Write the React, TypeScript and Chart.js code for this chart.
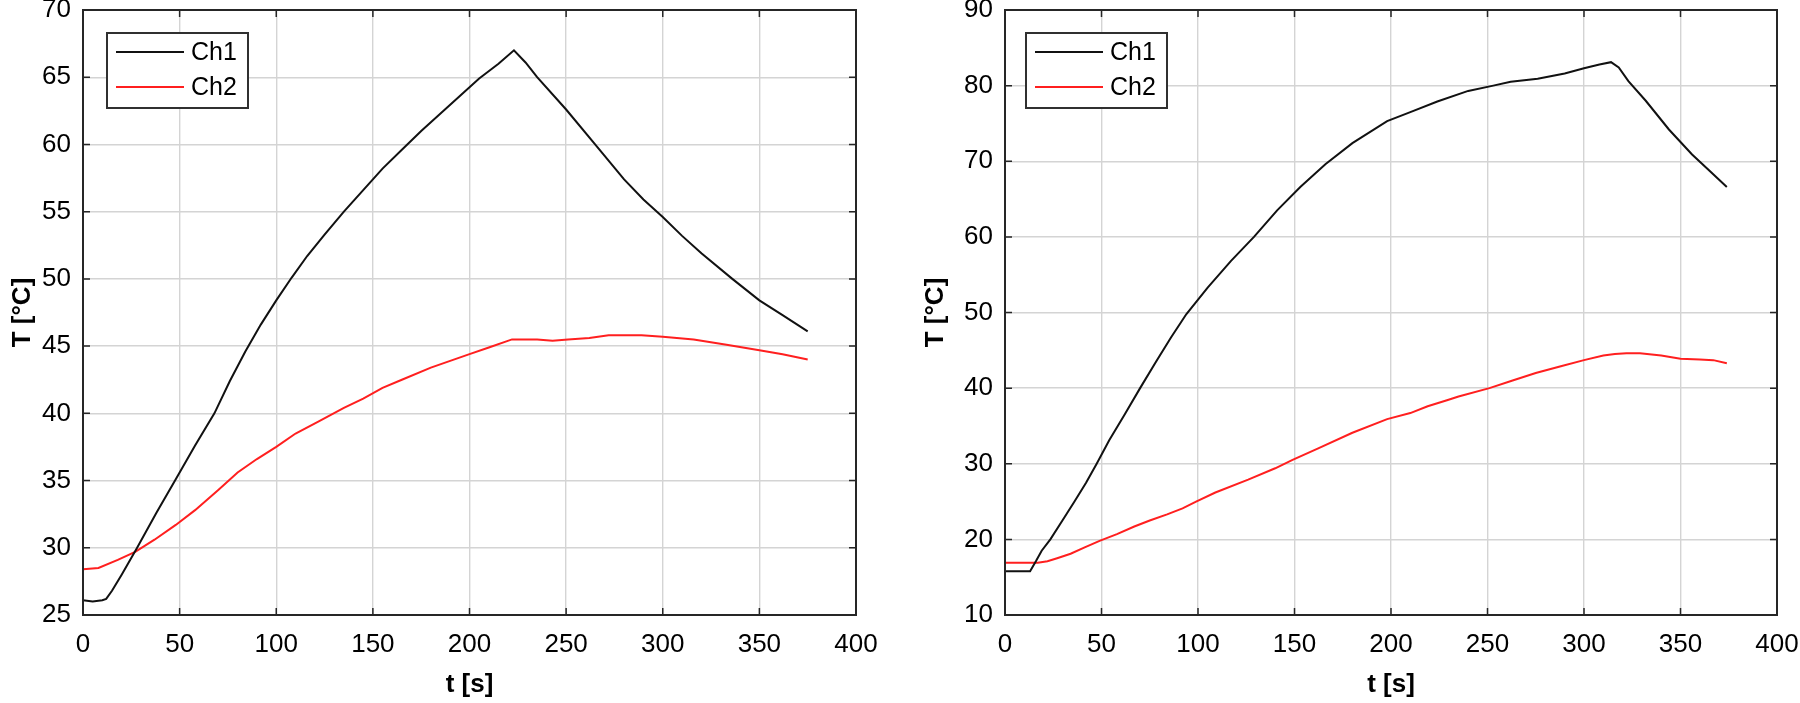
import React, { useEffect, useRef } from "react";
import { Chart, registerables } from "chart.js";

Chart.register(...registerables);

// ---------- data (time in s, temperature in °C) ----------
const seriesLabels = ["Ch1", "Ch2"];
const xTickValues = [0, 50, 100, 150, 200, 250, 300, 350, 400];
const leftYTicks = [25, 30, 35, 40, 45, 50, 55, 60, 65, 70];
const rightYTicks = [10, 20, 30, 40, 50, 60, 70, 80, 90];

const leftCh1T = [0, 5, 10, 12, 15, 20, 28, 38, 48, 58, 68, 76, 84, 92, 100, 108, 116, 125, 135, 145, 155, 165, 175, 185, 195, 205, 215, 223, 229, 235, 250, 265, 280, 290, 300, 310, 320, 336, 350, 362, 375];
const leftCh1 = [26.1, 26.0, 26.1, 26.2, 26.8, 28.0, 30.0, 32.6, 35.1, 37.6, 40.0, 42.4, 44.6, 46.6, 48.4, 50.1, 51.7, 53.3, 55.0, 56.6, 58.2, 59.6, 61.0, 62.3, 63.6, 64.9, 66.0, 67.0, 66.1, 65.0, 62.6, 60.0, 57.4, 55.9, 54.6, 53.2, 51.9, 50.0, 48.4, 47.3, 46.1];

const leftCh2T = [0, 8, 18, 27, 37, 48, 58, 70, 80, 90, 100, 110, 122, 135, 145, 155, 165, 180, 190, 200, 210, 222, 235, 243, 251, 262, 272, 289, 300, 316, 333, 350, 362, 375];
const leftCh2 = [28.4, 28.5, 29.1, 29.7, 30.6, 31.7, 32.8, 34.3, 35.6, 36.6, 37.5, 38.5, 39.4, 40.4, 41.1, 41.9, 42.5, 43.4, 43.9, 44.4, 44.9, 45.5, 45.5, 45.4, 45.5, 45.6, 45.8, 45.8, 45.7, 45.5, 45.1, 44.7, 44.4, 44.0];

const rightCh1T = [0, 8, 13, 16, 19, 23.5, 30, 36, 42, 47.5, 54, 62, 70, 78, 86, 94, 105, 117, 129, 141, 153, 166, 180, 198, 210, 224, 240, 253, 262, 276, 290, 300, 308, 314, 318, 323, 332, 344, 356, 366, 374];
const rightCh1 = [15.8, 15.8, 15.8, 17.1, 18.5, 20.0, 22.6, 25.0, 27.5, 30.0, 33.1, 36.5, 40.0, 43.4, 46.7, 49.8, 53.3, 56.8, 60.0, 63.5, 66.6, 69.6, 72.4, 75.3, 76.5, 77.9, 79.3, 80.0, 80.5, 80.9, 81.6, 82.3, 82.8, 83.1, 82.4, 80.6, 78.0, 74.2, 70.9, 68.5, 66.6];

const rightCh2T = [0, 10, 17, 22, 27, 34, 41, 49, 58, 67, 75, 84, 92, 99, 109, 126, 140, 149, 162, 180, 198, 210, 219, 229, 235, 251, 263, 275, 288, 300, 310, 316, 322, 329, 340, 350, 360, 367, 374];
const rightCh2 = [16.9, 16.9, 16.9, 17.1, 17.5, 18.1, 18.9, 19.8, 20.7, 21.7, 22.5, 23.3, 24.1, 25.0, 26.2, 27.9, 29.4, 30.5, 32.0, 34.1, 35.9, 36.7, 37.6, 38.4, 38.9, 40.0, 41.0, 42.0, 42.9, 43.7, 44.3, 44.5, 44.6, 44.6, 44.3, 43.9, 43.8, 43.7, 43.3];

// ---------- styling ----------
const FONT = "'Liberation Sans', Arial, Helvetica, sans-serif";
const TEXT = "#000000";
const AXIS = "#262626";
const GRID = "#d4d4d4";
const COLORS = ["#111111", "#ff1f1f"];

type Props = {
  t1: number[]; v1: number[]; t2: number[]; v2: number[];
  yMin: number; yMax: number; yTicks: number[];
  yAxisWidth: number; yTitlePad: number; rightPad: number; legendDx: number;
};

const framePlugin = {
  id: "matlabFrame",
  afterDatasetsDraw(chart: any, _args: any, opts: any) {
    const { ctx, chartArea: a, scales } = chart;
    ctx.save();
    ctx.strokeStyle = AXIS;
    ctx.lineWidth = 1.5;
    const tl = 7;
    ctx.beginPath();
    scales.x.ticks.forEach((t: any) => {
      const px = scales.x.getPixelForValue(t.value);
      ctx.moveTo(px, a.bottom); ctx.lineTo(px, a.bottom - tl);
      ctx.moveTo(px, a.top); ctx.lineTo(px, a.top + tl);
    });
    scales.y.ticks.forEach((t: any) => {
      const py = scales.y.getPixelForValue(t.value);
      ctx.moveTo(a.left, py); ctx.lineTo(a.left + tl, py);
      ctx.moveTo(a.right, py); ctx.lineTo(a.right - tl, py);
    });
    ctx.stroke();
    ctx.lineWidth = 2;
    ctx.strokeRect(a.left, a.top, a.right - a.left, a.bottom - a.top);

    // legend
    const bx = a.left + opts.dx;
    const by = a.top + 23;
    const bw = 141;
    const bh = 75;
    ctx.fillStyle = "#ffffff";
    ctx.fillRect(bx, by, bw, bh);
    ctx.lineWidth = 2;
    ctx.strokeStyle = "#303030";
    ctx.strokeRect(bx, by, bw, bh);
    ctx.font = `25px ${FONT}`;
    ctx.textBaseline = "middle";
    ctx.textAlign = "left";
    chart.data.datasets.forEach((ds: any, i: number) => {
      const ry = by + 19 + i * 35;
      ctx.strokeStyle = ds.borderColor;
      ctx.lineWidth = 2.2;
      ctx.beginPath();
      ctx.moveTo(bx + 9, ry);
      ctx.lineTo(bx + 77, ry);
      ctx.stroke();
      ctx.fillStyle = TEXT;
      ctx.fillText(ds.label, bx + 84, ry + 1);
    });
    ctx.restore();
  },
};

function TempChart(p: Props) {
  const ref = useRef<HTMLCanvasElement | null>(null);
  useEffect(() => {
    if (!ref.current) return;
    const mk = (ts: number[], vs: number[]) => ts.map((t, i) => ({ x: t, y: vs[i] }));
    const chart = new Chart(ref.current, {
      type: "line",
      data: {
        datasets: [
          { label: seriesLabels[0], data: mk(p.t1, p.v1), borderColor: COLORS[0], borderWidth: 2, pointRadius: 0, tension: 0, fill: false },
          { label: seriesLabels[1], data: mk(p.t2, p.v2), borderColor: COLORS[1], borderWidth: 2, pointRadius: 0, tension: 0, fill: false },
        ],
      },
      options: {
        animation: false,
        responsive: false,
        devicePixelRatio: 1,
        layout: { padding: { top: 10, right: p.rightPad, left: 0, bottom: 0 } },
        plugins: {
          legend: { display: false },
          tooltip: { enabled: false },
          matlabFrame: { dx: p.legendDx },
        } as any,
        scales: {
          x: {
            type: "linear",
            min: 0,
            max: 400,
            afterBuildTicks: (s: any) => { s.ticks = xTickValues.map((v) => ({ value: v })); },
            afterFit: (s: any) => { s.height = 88; s.paddingLeft = 0; s.paddingRight = 0; },
            grid: { color: GRID, lineWidth: 1.4, drawTicks: false },
            border: { display: false },
            ticks: { padding: 14, autoSkip: false, maxRotation: 0, color: TEXT, font: { family: FONT, size: 26 }, callback: (v: any) => String(v) },
            title: { display: true, text: "t [s]", color: TEXT, font: { family: FONT, size: 26, weight: "bold" }, padding: { top: 0, bottom: 3 } },
          },
          y: {
            type: "linear",
            min: p.yMin,
            max: p.yMax,
            afterBuildTicks: (s: any) => { s.ticks = p.yTicks.map((v) => ({ value: v })); },
            afterFit: (s: any) => { s.width = p.yAxisWidth; s.paddingTop = 0; s.paddingBottom = 0; },
            grid: { color: GRID, lineWidth: 1.4, drawTicks: false },
            border: { display: false },
            ticks: { padding: 12, autoSkip: false, color: TEXT, font: { family: FONT, size: 26 }, callback: (v: any) => String(v) },
            title: { display: true, text: "T [°C]", color: TEXT, font: { family: FONT, size: 26, weight: "bold" }, padding: { top: p.yTitlePad, bottom: 0 } },
          },
        },
      },
      plugins: [framePlugin],
    } as any);
    return () => chart.destroy();
  }, []);
  return <canvas ref={ref} width={900} height={703} style={{ display: "block" }} />;
}

export default function App() {
  return (
    <div style={{ position: "absolute", left: 0, top: 0, width: 1800, height: 703, background: "#fff", overflow: "hidden" }}>
      <div style={{ position: "absolute", left: 0, top: 0, width: 900, height: 703 }}>
        <TempChart t1={leftCh1T} v1={leftCh1} t2={leftCh2T} v2={leftCh2} yMin={25} yMax={70} yTicks={leftYTicks}
          yAxisWidth={83} yTitlePad={7} rightPad={44} legendDx={24} />
      </div>
      <div style={{ position: "absolute", left: 900, top: 0, width: 900, height: 703 }}>
        <TempChart t1={rightCh1T} v1={rightCh1} t2={rightCh2T} v2={rightCh2} yMin={10} yMax={90} yTicks={rightYTicks}
          yAxisWidth={105} yTitlePad={20} rightPad={23} legendDx={21} />
      </div>
    </div>
  );
}
